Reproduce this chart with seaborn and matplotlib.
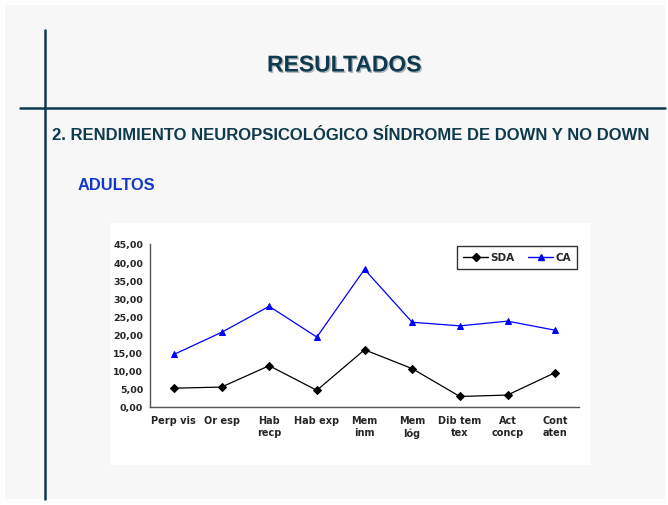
import matplotlib
matplotlib.use('Agg')
import matplotlib.pyplot as plt
import matplotlib.patheffects as pe
from matplotlib.patches import Rectangle
from matplotlib.lines import Line2D
from matplotlib.ticker import FixedLocator, FuncFormatter
import pandas as pd
import seaborn as sns

categorias = ['Perp vis', 'Or esp', 'Hab\nrecp', 'Hab exp', 'Mem\ninm',
              'Mem\nlóg', 'Dib tem\ntex', 'Act\nconcp', 'Cont\naten']
sda = [5.2, 5.5, 11.4, 4.6, 15.8, 10.6, 2.9, 3.3, 9.5]
ca = [14.5, 20.6, 27.8, 19.3, 38.0, 23.4, 22.4, 23.7, 21.2]
series = ['SDA', 'CA']

df = pd.DataFrame({
    'pos': list(range(len(categorias))) * 2,
    'valor': sda + ca,
    'serie': ['SDA'] * len(sda) + ['CA'] * len(ca),
})

sns.set_style('white')
plt.rcParams['font.family'] = ['DejaVu Sans']

dark = '#0f3a4d'
fig = plt.figure(figsize=(6.68, 5.06), dpi=100)
fig.patch.set_facecolor('white')

W, H = 668, 506
# slide background and chart area
fig.add_artist(Rectangle((5 / W, 1 - 500 / H), 660 / W, 494 / H,
                         transform=fig.transFigure, facecolor='#f7f7f7', edgecolor='none', zorder=0))
fig.add_artist(Rectangle((110 / W, 1 - 466 / H), 480 / W, 242 / H,
                         transform=fig.transFigure, facecolor='white', edgecolor='none', zorder=0))
# decorative lines
fig.add_artist(Line2D([45 / W, 45 / W], [1 - 31 / H, 1 - 500 / H], transform=fig.transFigure,
                      color=dark, lw=1.8))
fig.add_artist(Line2D([20 / W, 665 / W], [1 - 109 / H, 1 - 109 / H], transform=fig.transFigure,
                      color=dark, lw=1.8))

fig.text(344 / W, 1 - 66 / H, 'RESULTADOS', ha='center', va='center', fontsize=16.5,
         fontweight='bold', color=dark, family=['Liberation Sans', 'DejaVu Sans'],
         path_effects=[pe.withSimplePatchShadow(offset=(1, -1), shadow_rgbFace='#9aa5aa', alpha=0.8)])
fig.text(52 / W, 1 - 135 / H, '2. RENDIMIENTO NEUROPSICOLÓGICO SÍNDROME DE DOWN Y NO DOWN',
         ha='left', va='center', fontsize=12.0, fontweight='bold', color=dark,
         family=['Liberation Sans', 'DejaVu Sans'])
fig.text(78 / W, 1 - 185 / H, 'ADULTOS', ha='left', va='center', fontsize=11.8,
         fontweight='bold', color='#1438c8', family=['Liberation Sans', 'DejaVu Sans'])

ax = fig.add_axes([150 / W, 1 - 408 / H, 429 / W, 163 / H])
ax.set_facecolor('white')
sns.lineplot(data=df, x='pos', y='valor', hue='serie', style='serie', hue_order=series,
             style_order=series, palette=['black', 'blue'], markers=['D', '^'], dashes=False,
             markersize=4.5, markeredgecolor=None, linewidth=0.9, ax=ax, legend=False)

ax.set_xlim(-0.5, len(categorias) - 0.5)
ax.set_ylim(0, 45)
ax.set_yticks(range(0, 46, 5))
ax.yaxis.set_major_formatter(FuncFormatter(lambda v, p: f'{v:.2f}'.replace('.', ',')))
ax.xaxis.set_major_locator(FixedLocator([i - 0.5 for i in range(len(categorias) + 1)]))
ax.xaxis.set_minor_locator(FixedLocator(list(range(len(categorias)))))
ax.set_xticklabels([])
ax.set_xticklabels(categorias, minor=True)
ax.tick_params(axis='x', which='major', length=4, width=1, color='#555555', direction='out')
ax.tick_params(axis='x', which='minor', length=0, pad=6, labelsize=7)
ax.tick_params(axis='y', length=3, width=1, color='#555555', direction='out', labelsize=6.8, pad=2)
for lab in ax.get_xticklabels(minor=True) + ax.get_yticklabels():
    lab.set_fontweight('bold')
ax.set_xlabel('')
ax.set_ylabel('')
for s in ['top', 'right']:
    ax.spines[s].set_visible(False)
for s in ['left', 'bottom']:
    ax.spines[s].set_color('#555555')
    ax.spines[s].set_linewidth(1)

handles = [Line2D([], [], color='black', marker='D', markersize=4, lw=1),
           Line2D([], [], color='blue', marker='^', markersize=5, lw=1)]
leg = fig.legend(handles, series, loc='upper left', bbox_to_anchor=(457 / W, 1 - 247 / H),
                 ncol=2, frameon=True, fancybox=False, handlelength=2.4, borderaxespad=0,
                 handletextpad=0.2, columnspacing=1.3, borderpad=0.6, prop={'weight': 'bold', 'size': 7.5})
leg.get_frame().set_edgecolor('black')
leg.get_frame().set_linewidth(1)

fig.savefig('out.png', dpi=100)
